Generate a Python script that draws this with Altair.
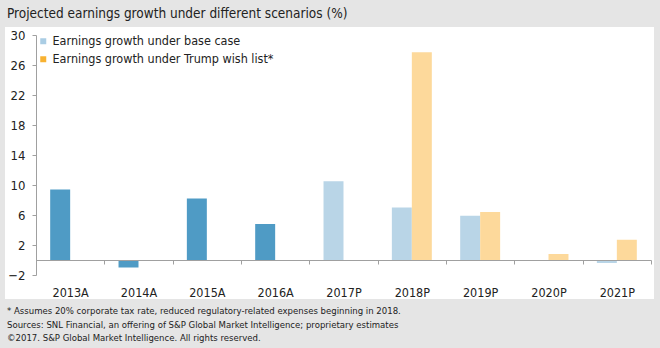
import altair as alt
import pandas as pd

categories = ["2013A", "2014A", "2015A", "2016A", "2017P", "2018P", "2019P", "2020P", "2021P"]
actual = [9.4, -1.0, 8.2, 4.8, None, None, None, None, None]
base_case = [None, None, None, None, 10.5, 7.0, 5.9, None, -0.4]
trump = [None, None, None, None, None, 27.7, 6.4, 0.8, 2.7]

series_names = ["Actual", "Earnings growth under base case", "Earnings growth under Trump wish list*"]
bar_colors = ["#4f9bc5", "#b9d5e7", "#fdd99b"]
legend_colors = ["#aacde4", "#f8b231"]
y_ticks = [-2, 2, 6, 10, 14, 18, 22, 26, 30]

title_text = ["Projected earnings growth under different scenarios (%)"]
footnotes = [
    "* Assumes 20% corporate tax rate, reduced regulatory-related expenses beginning in 2018.",
    "Sources: SNL Financial, an offering of S&P Global Market Intelligence; proprietary estimates",
    "\u00a92017. S&P Global Market Intelligence. All rights reserved.",
]

FONT = "DejaVu Sans Condensed, Roboto Condensed, Arial Narrow, Roboto"

rows = []
for i, c in enumerate(categories):
    if actual[i] is not None:
        rows.append({"cat": c, "series": series_names[0], "slot": "a", "value": actual[i]})
    if base_case[i] is not None:
        rows.append({"cat": c, "series": series_names[1], "slot": "a", "value": base_case[i]})
    if trump[i] is not None:
        rows.append({"cat": c, "series": series_names[2], "slot": "b", "value": trump[i]})
df = pd.DataFrame(rows)

W, H = 615, 240

panel = alt.Chart(pd.DataFrame({"k": [0]})).mark_rect(color="white").encode(
    x=alt.value(-31), x2=alt.value(618), y=alt.value(-8), y2=alt.value(264)
)

bars = alt.Chart(df).mark_bar().encode(
    x=alt.X("cat:N", sort=categories, title=None,
            scale=alt.Scale(paddingInner=0, paddingOuter=0),
            axis=alt.Axis(orient="bottom", offset=-15, tickBand="extent", labelAngle=0,
                          domainColor="#a0a0a0", tickColor="#a0a0a0", tickSize=4,
                          labelPadding=22, labelFontSize=12.5, labelColor="#222222",
                          labelFont=FONT, grid=False, zindex=1)),
    xOffset=alt.XOffset("slot:N", scale=alt.Scale(domain=["a", "b"], paddingInner=0, paddingOuter=0.71)),
    y=alt.Y("value:Q", title=None,
            scale=alt.Scale(domain=[-2, 30], nice=False, zero=False),
            axis=alt.Axis(values=y_ticks, grid=False, domainColor="#a0a0a0", tickColor="#a0a0a0",
                          tickSize=4, labelPadding=7, labelFontSize=13, labelColor="#222222",
                          labelFont=FONT, zindex=1)),
    color=alt.Color("series:N", scale=alt.Scale(domain=series_names, range=bar_colors), legend=None),
)

leg_df = pd.DataFrame({"series": series_names[1:]})
legend_layer = alt.Chart(leg_df).mark_point(filled=True, shape="square", opacity=0).encode(
    color=alt.Color("series:N", scale=alt.Scale(domain=series_names[1:], range=legend_colors),
                    legend=alt.Legend(title=None, orient="none", legendX=1, legendY=0,
                                      symbolType="square", symbolSize=36, symbolOpacity=1,
                                      symbolStrokeWidth=0, labelFontSize=12.5, labelColor="#222222",
                                      labelFont=FONT, rowPadding=5, labelLimit=400, padding=0,
                                      labelOffset=3, zindex=1)),
)

title = alt.Chart(pd.DataFrame({"t": title_text})).mark_text(
    align="left", baseline="middle", fontSize=13.5, color="#222222", font=FONT
).encode(x=alt.value(-29), y=alt.value(-21), text="t:N")

foot = alt.Chart(pd.DataFrame({"t": ["\n".join(footnotes)]})).mark_text(
    align="left", baseline="top", fontSize=9.5, color="#222222", font=FONT,
    lineBreak="\n", lineHeight=13.5
).encode(x=alt.value(-29), y=alt.value(271), text="t:N")

chart = alt.layer(panel, bars, legend_layer, title, foot).resolve_scale(
    color="independent"
).properties(
    width=W, height=H,
    autosize=alt.AutoSizeParams(type="none"),
    padding={"left": 36, "top": 35, "right": 9, "bottom": 73},
    background="#e5e5e5",
).configure_view(stroke=None)

chart.save("out.html", embed_options={"renderer": "svg", "actions": False})
